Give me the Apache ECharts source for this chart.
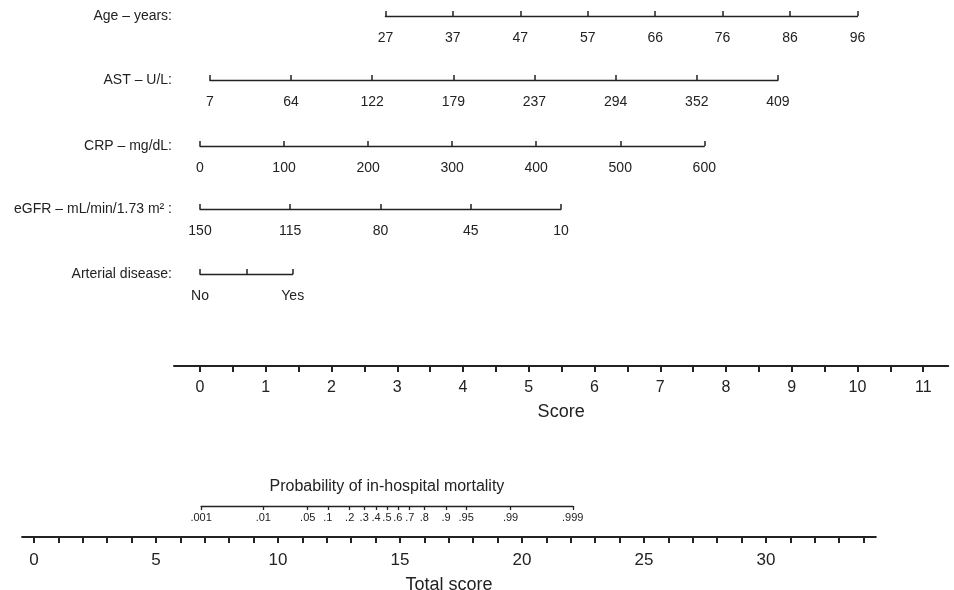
<!DOCTYPE html>
<html>
<head>
<meta charset="utf-8">
<script src="https://cdn.jsdelivr.net/npm/echarts@6/dist/echarts.min.js"></script>
<style>
  html, body { margin: 0; padding: 0; background: #fff; }
  #main { width: 954px; height: 590px; }
</style>
</head>
<body>
<div id="main"></div>
<script>
// tick labels of each predictor (evenly spaced on its line)
var ageTicks = [27, 37, 47, 57, 66, 76, 86, 96];
var astTicks = [7, 64, 122, 179, 237, 294, 352, 409];
var crpTicks = [0, 100, 200, 300, 400, 500, 600];
var egfrTicks = [150, 115, 80, 45, 10];
var arterialTicks = ['No', '', 'Yes'];

// where each predictor line starts / ends on the Score axis
var agePoints = [2.82, 10];
var astPoints = [0.15, 8.79];
var crpPoints = [0, 7.67];
var egfrPoints = [0, 5.49];
var arterialPoints = [0, 1.41];

var scoreLabels = [0, 1, 2, 3, 4, 5, 6, 7, 8, 9, 10, 11];
var totalLabels = [0, 5, 10, 15, 20, 25, 30];

var probTicks = [0.001, 0.01, 0.05, 0.1, 0.2, 0.3, 0.4, 0.5, 0.6, 0.7, 0.8, 0.9, 0.95, 0.99, 0.999];
var probLabels = ['.001', '.01', '.05', '.1', '.2', '.3', '.4', '.5', '.6', '.7', '.8', '.9', '.95', '.99', '.999'];
// logit(p) = intercept + slope * total score
var modelIntercept = -13.12;
var modelSlope = 0.907;

var W = 954;
var INK = '#222';
var FONT = '"Liberation Sans", Arial, Helvetica, sans-serif';

// pixel layout of the two point scales
function scoreX(s) { return 200 + s * 65.75; }
function totalX(t) { return 34 + t * 24.4; }
function logit(p) { return Math.log(p / (1 - p)); }

var grids = [], xAxes = [], yAxes = [];

function addGrid(left, right, lineY) {
  grids.push({ left: left, right: right, top: lineY - 10, height: 10, outerBoundsMode: 'none', containLabel: false });
  yAxes.push({ gridIndex: grids.length - 1, type: 'value', min: 0, max: 1, show: false });
  return grids.length - 1;
}

function addRow(name, ticks, pts, lineY) {
  var gi = addGrid(scoreX(pts[0]), W - scoreX(pts[1]), lineY);
  xAxes.push({
    gridIndex: gi, type: 'category', data: ticks, boundaryGap: false, position: 'bottom',
    name: name, nameLocation: 'start', nameGap: scoreX(pts[0]) - 172,
    nameTextStyle: { fontSize: 14, color: INK, verticalAlign: 'middle', padding: [9, 0, 0, 0] },
    axisLine: { onZero: false, lineStyle: { color: INK, width: 1.3 } },
    axisTick: { show: true, inside: true, length: 5, interval: 0, lineStyle: { color: INK, width: 1.5 } },
    axisLabel: { interval: 0, margin: 15, fontSize: 14, color: INK },
    splitLine: { show: false }
  });
}

addRow('Age – years:', ageTicks, agePoints, 16);
addRow('AST – U/L:', astTicks, astPoints, 80);
addRow('CRP – mg/dL:', crpTicks, crpPoints, 146);
addRow('eGFR – mL/min/1.73 m² :', egfrTicks, egfrPoints, 209);
addRow('Arterial disease:', arterialTicks, arterialPoints, 274);

// Score axis
var scoreTicks = [];
for (var s = 0; s <= 11; s += 0.5) scoreTicks.push(s);
var gScore = addGrid(scoreX(-0.395), W - scoreX(11.38), 366);
xAxes.push({
  gridIndex: gScore, type: 'value', min: -0.395, max: 11.38, position: 'bottom',
  name: 'Score', nameLocation: 'middle', nameGap: 46,
  nameTextStyle: { fontSize: 18, color: INK, verticalAlign: 'middle' },
  axisLine: { onZero: false, lineStyle: { color: INK, width: 2 } },
  axisTick: { show: true, length: 6, customValues: scoreTicks, lineStyle: { color: INK, width: 2 } },
  axisLabel: { margin: 14, fontSize: 16, color: INK, customValues: scoreLabels, showMinLabel: true, showMaxLabel: true },
  splitLine: { show: false }
});

// Probability axis (logit scale lined up with Total score)
var probMin = logit(probTicks[0]);
var probMax = logit(probTicks[probTicks.length - 1]);
var probVals = probTicks.map(logit);
var gProb = addGrid(totalX((probMin - modelIntercept) / modelSlope),
  W - totalX((probMax - modelIntercept) / modelSlope), 506);
xAxes.push({
  gridIndex: gProb, type: 'value', min: probMin, max: probMax, position: 'bottom',
  name: 'Probability of in-hospital mortality', nameLocation: 'middle', nameGap: -19,
  nameTextStyle: { fontSize: 16, color: INK, verticalAlign: 'middle' },
  axisLine: { onZero: false, lineStyle: { color: INK, width: 1.3 } },
  axisTick: { show: true, length: 4, customValues: probVals, lineStyle: { color: INK, width: 1.3 } },
  axisLabel: {
    margin: 6, fontSize: 11, color: INK, customValues: probVals, showMinLabel: true, showMaxLabel: true,
    formatter: function (v) {
      var best = 0;
      for (var i = 1; i < probVals.length; i++) {
        if (Math.abs(probVals[i] - v) < Math.abs(probVals[best] - v)) best = i;
      }
      return probLabels[best];
    }
  },
  splitLine: { show: false }
});

// Total score axis
var totalTicks = [];
for (var t = 0; t <= 34; t++) totalTicks.push(t);
var gTotal = addGrid(totalX(-0.49), W - totalX(34.5), 537);
xAxes.push({
  gridIndex: gTotal, type: 'value', min: -0.49, max: 34.5, position: 'bottom',
  name: 'Total score', nameLocation: 'middle', nameGap: 48,
  nameTextStyle: { fontSize: 18, color: INK, verticalAlign: 'middle' },
  axisLine: { onZero: false, lineStyle: { color: INK, width: 2 } },
  axisTick: { show: true, length: 6, customValues: totalTicks, lineStyle: { color: INK, width: 2 } },
  axisLabel: { margin: 15, fontSize: 17, color: INK, customValues: totalLabels, showMinLabel: true, showMaxLabel: true },
  splitLine: { show: false }
});

var chart = echarts.init(document.getElementById('main'));
chart.setOption({
  animation: false,
  backgroundColor: '#fff',
  textStyle: { fontFamily: FONT, color: INK },
  grid: grids,
  xAxis: xAxes,
  yAxis: yAxes,
  series: []
});
</script>
</body>
</html>
